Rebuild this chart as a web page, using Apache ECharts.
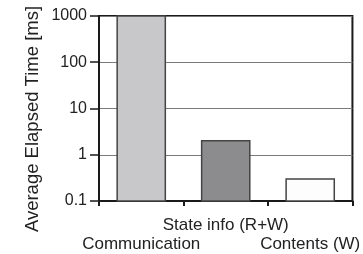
<!DOCTYPE html>
<html>
<head>
<meta charset="utf-8">
<script src="https://cdn.jsdelivr.net/npm/echarts@6/dist/echarts.min.js"></script>
<style>html,body{margin:0;padding:0;background:#fff}#c{width:363px;height:254px}</style>
</head>
<body>
<div id="c"></div>
<script>
const categories = ['Communication', 'State info (R+W)', 'Contents (W)'];
const values = [1000, 2, 0.3];
const barColors = ['#c8c8ca', '#8c8c8f', '#fdfdfd'];
const yTitle = 'Average Elapsed Time [ms]';
const yMin = 0.1;
const yMax = 1000;

const chart = echarts.init(document.getElementById('c'), null, {renderer: 'canvas'});
chart.setOption({
  animation: false,
  grid: {left: 99, right: 9, top: 16, bottom: 52, show: true, borderColor: '#1a1a1a', borderWidth: 2, backgroundColor: 'transparent'},
  xAxis: {
    type: 'category',
    data: categories,
    axisLine: {show: true, lineStyle: {color: '#1a1a1a', width: 2}},
    axisTick: {show: true, length: 5, alignWithLabel: false, lineStyle: {color: '#1a1a1a', width: 2}},
    axisLabel: {
      interval: 0, margin: 15, color: '#222', fontFamily: 'Liberation Sans, Arial, sans-serif', fontSize: 17, lineHeight: 19,
      formatter: function (v, i) { return i === 1 ? v : '\n' + v; }
    }
  },
  yAxis: {
    type: 'log',
    logBase: 10,
    min: yMin,
    max: yMax,
    axisLine: {show: true, lineStyle: {color: '#1a1a1a', width: 2}},
    axisTick: {show: true, length: 9, lineStyle: {color: '#1a1a1a', width: 1.5}},
    splitLine: {show: true, lineStyle: {color: '#7a7a7a', width: 1}},
    axisLabel: {margin: 12, color: '#222', fontFamily: 'Liberation Sans, Arial, sans-serif', fontSize: 16,
      formatter: function (v) { return String(v); }}
  },
  graphic: [{
    type: 'text', x: 33, y: 119, rotation: Math.PI / 2,
    style: {text: yTitle, fill: '#222', font: '18.5px "Liberation Sans", Arial, sans-serif', align: 'center', verticalAlign: 'middle'}
  }],
  series: [{
    type: 'custom',
    data: values.map(function (v, i) { return [i, v]; }),
    encode: {x: 0, y: 1},
    renderItem: function (params, api) {
      const i = api.value(0);
      const top = api.coord([i, api.value(1)]);
      const base = api.coord([i, yMin]);
      const w = api.size([1, 0])[0] * 0.57;
      return {
        type: 'rect',
        shape: {x: top[0] - w / 2, y: top[1], width: w, height: base[1] - top[1]},
        style: {fill: barColors[params.dataIndex], stroke: '#444', lineWidth: 1.5}
      };
    }
  }]
});
</script>
</body>
</html>
